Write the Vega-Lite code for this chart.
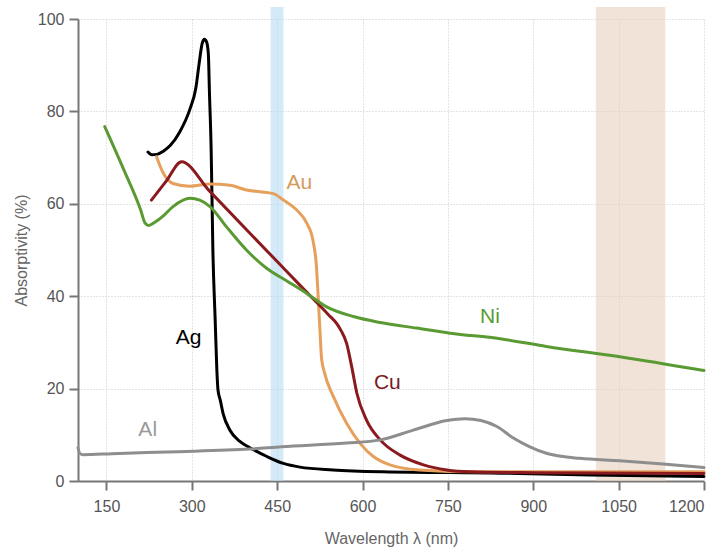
{
  "$schema": "https://vega.github.io/schema/vega-lite/v6.json",
  "width": 626,
  "height": 462,
  "autosize": {"type": "none"},
  "padding": {"left": 78, "top": 19, "right": 20, "bottom": 71},
  "background": "white",
  "config": {
    "view": {"stroke": null},
    "font": "Liberation Sans"
  },
  "datasets": {
    "bands": [
      {"band": "blue", "start": 438.5, "end": 461, "bottom": 0, "top": 102.6},
      {"band": "ir", "start": 1010, "end": 1132, "bottom": 0, "top": 102.6}
    ],
    "curves": [
      {"metal": "Ag", "wavelength": 223, "absorptivity": 71.2},
      {"metal": "Ag", "wavelength": 230, "absorptivity": 70.6},
      {"metal": "Ag", "wavelength": 239, "absorptivity": 70.7},
      {"metal": "Ag", "wavelength": 250, "absorptivity": 71.4},
      {"metal": "Ag", "wavelength": 262, "absorptivity": 72.6},
      {"metal": "Ag", "wavelength": 279, "absorptivity": 75.6},
      {"metal": "Ag", "wavelength": 297, "absorptivity": 80.6},
      {"metal": "Ag", "wavelength": 307, "absorptivity": 85},
      {"metal": "Ag", "wavelength": 313, "absorptivity": 90.5},
      {"metal": "Ag", "wavelength": 318, "absorptivity": 94.6},
      {"metal": "Ag", "wavelength": 322, "absorptivity": 95.6},
      {"metal": "Ag", "wavelength": 326, "absorptivity": 95},
      {"metal": "Ag", "wavelength": 329, "absorptivity": 92.5},
      {"metal": "Ag", "wavelength": 331, "absorptivity": 84},
      {"metal": "Ag", "wavelength": 334, "absorptivity": 71.6},
      {"metal": "Ag", "wavelength": 337, "absorptivity": 50},
      {"metal": "Ag", "wavelength": 341, "absorptivity": 35},
      {"metal": "Ag", "wavelength": 344, "absorptivity": 24},
      {"metal": "Ag", "wavelength": 346, "absorptivity": 19.7},
      {"metal": "Ag", "wavelength": 350, "absorptivity": 17.5},
      {"metal": "Ag", "wavelength": 355, "absorptivity": 14.6},
      {"metal": "Ag", "wavelength": 367, "absorptivity": 11},
      {"metal": "Ag", "wavelength": 385, "absorptivity": 8.5},
      {"metal": "Ag", "wavelength": 402, "absorptivity": 7.2},
      {"metal": "Ag", "wavelength": 432, "absorptivity": 5.3},
      {"metal": "Ag", "wavelength": 461, "absorptivity": 3.8},
      {"metal": "Ag", "wavelength": 490, "absorptivity": 3.0},
      {"metal": "Ag", "wavelength": 548, "absorptivity": 2.4},
      {"metal": "Ag", "wavelength": 636, "absorptivity": 2.0},
      {"metal": "Ag", "wavelength": 842, "absorptivity": 1.7},
      {"metal": "Ag", "wavelength": 1000, "absorptivity": 1.3},
      {"metal": "Ag", "wavelength": 1200, "absorptivity": 1.0},

      {"metal": "Au", "wavelength": 238, "absorptivity": 70.2},
      {"metal": "Au", "wavelength": 250, "absorptivity": 66.6},
      {"metal": "Au", "wavelength": 267, "absorptivity": 64.4},
      {"metal": "Au", "wavelength": 297, "absorptivity": 63.8},
      {"metal": "Au", "wavelength": 332, "absorptivity": 64.3},
      {"metal": "Au", "wavelength": 367, "absorptivity": 64},
      {"metal": "Au", "wavelength": 396, "absorptivity": 63},
      {"metal": "Au", "wavelength": 420, "absorptivity": 62.6},
      {"metal": "Au", "wavelength": 443, "absorptivity": 62.2},
      {"metal": "Au", "wavelength": 461, "absorptivity": 60.8},
      {"metal": "Au", "wavelength": 484, "absorptivity": 58.7},
      {"metal": "Au", "wavelength": 502, "absorptivity": 55.8},
      {"metal": "Au", "wavelength": 513, "absorptivity": 52},
      {"metal": "Au", "wavelength": 519, "absorptivity": 46.4},
      {"metal": "Au", "wavelength": 522, "absorptivity": 39.9},
      {"metal": "Au", "wavelength": 525, "absorptivity": 33},
      {"metal": "Au", "wavelength": 528, "absorptivity": 26.5},
      {"metal": "Au", "wavelength": 533, "absorptivity": 23.5},
      {"metal": "Au", "wavelength": 549, "absorptivity": 18.2},
      {"metal": "Au", "wavelength": 572, "absorptivity": 12.5},
      {"metal": "Au", "wavelength": 596, "absorptivity": 8.1},
      {"metal": "Au", "wavelength": 619, "absorptivity": 5.3},
      {"metal": "Au", "wavelength": 648, "absorptivity": 3.5},
      {"metal": "Au", "wavelength": 700, "absorptivity": 2.4},
      {"metal": "Au", "wavelength": 800, "absorptivity": 2.0},
      {"metal": "Au", "wavelength": 1200, "absorptivity": 2.0},

      {"metal": "Cu", "wavelength": 229, "absorptivity": 60.8},
      {"metal": "Cu", "wavelength": 255, "absorptivity": 64.9},
      {"metal": "Cu", "wavelength": 282, "absorptivity": 69.1},
      {"metal": "Cu", "wavelength": 330, "absorptivity": 62.9},
      {"metal": "Cu", "wavelength": 400, "absorptivity": 53.9},
      {"metal": "Cu", "wavelength": 450, "absorptivity": 47.5},
      {"metal": "Cu", "wavelength": 500, "absorptivity": 41.1},
      {"metal": "Cu", "wavelength": 540, "absorptivity": 36},
      {"metal": "Cu", "wavelength": 555, "absorptivity": 34},
      {"metal": "Cu", "wavelength": 562, "absorptivity": 32.6},
      {"metal": "Cu", "wavelength": 572, "absorptivity": 29.8},
      {"metal": "Cu", "wavelength": 581, "absorptivity": 24.7},
      {"metal": "Cu", "wavelength": 590, "absorptivity": 19},
      {"metal": "Cu", "wavelength": 607, "absorptivity": 13.2},
      {"metal": "Cu", "wavelength": 631, "absorptivity": 8.9},
      {"metal": "Cu", "wavelength": 666, "absorptivity": 5.6},
      {"metal": "Cu", "wavelength": 707, "absorptivity": 3.5},
      {"metal": "Cu", "wavelength": 748, "absorptivity": 2.4},
      {"metal": "Cu", "wavelength": 790, "absorptivity": 2.0},
      {"metal": "Cu", "wavelength": 900, "absorptivity": 1.8},
      {"metal": "Cu", "wavelength": 1200, "absorptivity": 1.6},

      {"metal": "Ni", "wavelength": 147, "absorptivity": 76.7},
      {"metal": "Ni", "wavelength": 180, "absorptivity": 67.5},
      {"metal": "Ni", "wavelength": 210, "absorptivity": 58.7},
      {"metal": "Ni", "wavelength": 218, "absorptivity": 55.8},
      {"metal": "Ni", "wavelength": 224, "absorptivity": 55.3},
      {"metal": "Ni", "wavelength": 235, "absorptivity": 56},
      {"metal": "Ni", "wavelength": 250, "absorptivity": 57.4},
      {"metal": "Ni", "wavelength": 267, "absorptivity": 59.4},
      {"metal": "Ni", "wavelength": 297, "absorptivity": 61.2},
      {"metal": "Ni", "wavelength": 314, "absorptivity": 60.8},
      {"metal": "Ni", "wavelength": 332, "absorptivity": 59.4},
      {"metal": "Ni", "wavelength": 361, "absorptivity": 55},
      {"metal": "Ni", "wavelength": 396, "absorptivity": 50},
      {"metal": "Ni", "wavelength": 432, "absorptivity": 46},
      {"metal": "Ni", "wavelength": 467, "absorptivity": 43.3},
      {"metal": "Ni", "wavelength": 502, "absorptivity": 40.6},
      {"metal": "Ni", "wavelength": 537, "absorptivity": 37.7},
      {"metal": "Ni", "wavelength": 584, "absorptivity": 35.6},
      {"metal": "Ni", "wavelength": 631, "absorptivity": 34.3},
      {"metal": "Ni", "wavelength": 695, "absorptivity": 33.1},
      {"metal": "Ni", "wavelength": 754, "absorptivity": 32},
      {"metal": "Ni", "wavelength": 842, "absorptivity": 30.8},
      {"metal": "Ni", "wavelength": 923, "absorptivity": 29.1},
      {"metal": "Ni", "wavelength": 1052, "absorptivity": 26.9},
      {"metal": "Ni", "wavelength": 1200, "absorptivity": 23.9},

      {"metal": "Al", "wavelength": 100, "absorptivity": 7.2},
      {"metal": "Al", "wavelength": 103, "absorptivity": 6.0},
      {"metal": "Al", "wavelength": 108, "absorptivity": 5.7},
      {"metal": "Al", "wavelength": 160, "absorptivity": 5.9},
      {"metal": "Al", "wavelength": 256, "absorptivity": 6.3},
      {"metal": "Al", "wavelength": 402, "absorptivity": 6.9},
      {"metal": "Al", "wavelength": 458, "absorptivity": 7.4},
      {"metal": "Al", "wavelength": 572, "absorptivity": 8.2},
      {"metal": "Al", "wavelength": 631, "absorptivity": 8.9},
      {"metal": "Al", "wavelength": 689, "absorptivity": 11},
      {"metal": "Al", "wavelength": 748, "absorptivity": 13.1},
      {"metal": "Al", "wavelength": 780, "absorptivity": 13.5},
      {"metal": "Al", "wavelength": 808, "absorptivity": 13.1},
      {"metal": "Al", "wavelength": 836, "absorptivity": 11.8},
      {"metal": "Al", "wavelength": 865, "absorptivity": 9.3},
      {"metal": "Al", "wavelength": 894, "absorptivity": 7.4},
      {"metal": "Al", "wavelength": 923, "absorptivity": 6.0},
      {"metal": "Al", "wavelength": 982, "absorptivity": 4.9},
      {"metal": "Al", "wavelength": 1052, "absorptivity": 4.4},
      {"metal": "Al", "wavelength": 1128, "absorptivity": 3.7},
      {"metal": "Al", "wavelength": 1200, "absorptivity": 2.9}
    ],
    "labels": [
      {"metal": "Ag", "wavelength": 294.5, "absorptivity": 30.9},
      {"metal": "Au", "wavelength": 489, "absorptivity": 64.6},
      {"metal": "Cu", "wavelength": 643.5, "absorptivity": 21.3},
      {"metal": "Ni", "wavelength": 824, "absorptivity": 35.6},
      {"metal": "Al", "wavelength": 222.5, "absorptivity": 11}
    ]
  },
  "layer": [
    {
      "data": {"name": "bands"},
      "mark": {"type": "rect", "clip": false, "opacity": 0.6},
      "encoding": {
        "x": {"field": "start", "type": "quantitative", "scale": {"domain": [100, 1200], "nice": false, "zero": false}},
        "x2": {"field": "end"},
        "y": {"field": "bottom", "type": "quantitative", "scale": {"domain": [0, 100], "nice": false}},
        "y2": {"field": "top"},
        "fill": {
          "field": "band", "type": "nominal",
          "scale": {"domain": ["blue", "ir"], "range": ["#b9dcf5", "#e9d1c0"]},
          "legend": null
        }
      }
    },
    {
      "data": {"name": "curves"},
      "mark": {"type": "line", "interpolate": "monotone", "strokeWidth": 3, "strokeCap": "round", "strokeJoin": "round"},
      "encoding": {
        "x": {
          "field": "wavelength", "type": "quantitative",
          "scale": {"domain": [100, 1200], "nice": false, "zero": false},
          "axis": {
            "values": [150, 300, 450, 600, 750, 900, 1050, 1200],
            "format": "d",
            "title": "Wavelength λ (nm)",
            "titleFont": "Liberation Sans", "titleFontSize": 16, "titleFontWeight": "normal", "titleColor": "#666666",
            "titlePadding": 16,
            "labelFont": "Liberation Sans", "labelFontSize": 16, "labelColor": "#555555", "labelPadding": 8,
            "domainColor": "#777777", "domainWidth": 2,
            "tickColor": "#777777", "tickWidth": 2, "tickSize": 9,
            "grid": true, "gridColor": "#c8c8c8", "gridDash": [1, 2], "gridWidth": 1
          }
        },
        "y": {
          "field": "absorptivity", "type": "quantitative",
          "scale": {"domain": [0, 100], "nice": false},
          "axis": {
            "values": [0, 20, 40, 60, 80, 100],
            "title": "Absorptivity (%)",
            "titleFont": "Liberation Sans", "titleFontSize": 16, "titleFontWeight": "normal", "titleColor": "#666666",
            "titlePadding": 8,
            "labelFont": "Liberation Sans", "labelFontSize": 16, "labelColor": "#555555", "labelPadding": 5,
            "domainColor": "#777777", "domainWidth": 2,
            "tickColor": "#777777", "tickWidth": 2, "tickSize": 9,
            "grid": true, "gridColor": "#c8c8c8", "gridDash": [1, 2], "gridWidth": 1
          }
        },
        "detail": {"field": "metal", "type": "nominal"},
        "stroke": {
          "field": "metal", "type": "nominal",
          "scale": {"domain": ["Ag", "Au", "Cu", "Ni", "Al"], "range": ["#000000", "#e6a05c", "#8a1a1e", "#5a9a33", "#8e8e8e"]},
          "legend": null
        }
      }
    },
    {
      "data": {"name": "labels"},
      "mark": {"type": "text", "font": "Liberation Sans", "fontSize": 21, "align": "center", "baseline": "middle"},
      "encoding": {
        "x": {"field": "wavelength", "type": "quantitative"},
        "y": {"field": "absorptivity", "type": "quantitative"},
        "text": {"field": "metal"},
        "fill": {
          "field": "metal", "type": "nominal",
          "scale": {"domain": ["Ag", "Au", "Cu", "Ni", "Al"], "range": ["#000000", "#d49a5c", "#7a1a22", "#5a9a33", "#9a9a9a"]},
          "legend": null
        }
      }
    }
  ],
  "resolve": {"scale": {"fill": "independent"}}
}
